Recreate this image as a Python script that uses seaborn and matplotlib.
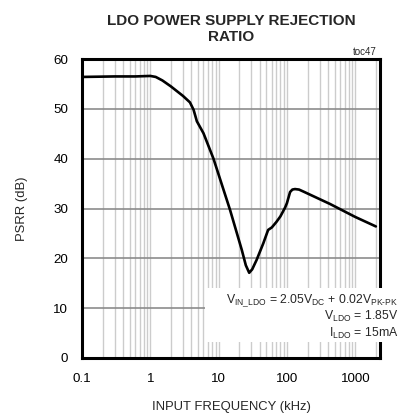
import matplotlib
matplotlib.use("Agg")
import matplotlib.pyplot as plt
from matplotlib.patches import Rectangle
from matplotlib.ticker import LogLocator, FixedLocator, FixedFormatter, NullFormatter
import seaborn as sns
import pandas as pd

# PSRR of the LDO versus ripple frequency
freq_khz = [0.1, 0.3, 0.6, 1.0, 1.2, 1.5, 2.0, 3.0, 3.8, 4.3, 4.8, 6.0, 8.4,
            14.7, 21.8, 25.0, 28.0, 31.0, 36.0, 45.0, 53.0, 60.0, 70.0, 80.0,
            94.0, 100.0, 111.0, 120.0, 131.0, 150.0, 174.0, 428.0, 1000.0, 2000.0]
psrr_db = [56.4, 56.5, 56.5, 56.6, 56.4, 55.7, 54.5, 52.6, 51.3, 49.8, 47.5, 45.1, 40.0,
           29.7, 21.7, 18.6, 17.1, 17.8, 19.7, 23.0, 25.7, 26.2, 27.3, 28.4,
           30.2, 31.1, 33.3, 33.8, 33.9, 33.8, 33.4, 30.9, 28.3, 26.4]

x_ticks = [0.1, 1, 10, 100, 1000]
x_tick_labels = ["0.1", "1", "10", "100", "1000"]
y_ticks = [0, 10, 20, 30, 40, 50, 60]

title_text = "LDO POWER SUPPLY REJECTION\nRATIO"
x_title = "INPUT FREQUENCY (kHz)"
y_title = "PSRR (dB)"
note_lines = [
    r"V$_{\mathregular{IN\_LDO}}$ = 2.05V$_{\mathregular{DC}}$ + 0.02V$_{\text{PK-PK}}$",
    r"V$_{\mathregular{LDO}}$ = 1.85V",
    r"I$_{\mathregular{LDO}}$ = 15mA",
]

sns.set_style("white")
plt.rcParams["font.family"] = ["Liberation Sans", "DejaVu Sans"]
plt.rcParams["mathtext.fontset"] = "custom"
plt.rcParams["mathtext.rm"] = "Liberation Sans"
plt.rcParams["mathtext.default"] = "regular"

df = pd.DataFrame({"freq": freq_khz, "psrr": psrr_db})

fig = plt.figure(figsize=(4.04, 4.18), dpi=100)
ax = fig.add_axes([82 / 404, 1 - 358 / 418, (380 - 82) / 404, (358 - 59) / 418])

sns.lineplot(data=df, x="freq", y="psrr", ax=ax, color="black", linewidth=1.9,
             zorder=3, sort=False)

ax.set_xscale("log")
ax.set_xlim(0.1, 2300)
ax.set_ylim(0, 60)

ax.xaxis.set_major_locator(FixedLocator(x_ticks))
ax.xaxis.set_major_formatter(FixedFormatter(x_tick_labels))
ax.xaxis.set_minor_locator(LogLocator(base=10, subs=range(2, 10), numticks=20))
ax.xaxis.set_minor_formatter(NullFormatter())
ax.set_yticks(y_ticks)

ax.grid(True, axis="x", which="both", color="#cccccc", linewidth=1.0, zorder=1)
ax.grid(True, axis="y", which="major", color="#8c8c8c", linewidth=1.2, zorder=1)
ax.set_axisbelow(True)

ax.tick_params(axis="both", which="both", length=0, labelsize=9.6, colors="black")
ax.tick_params(axis="y", pad=10)
ax.tick_params(axis="x", pad=11)

for s in ax.spines.values():
    s.set_visible(True)
    s.set_color("black")
    s.set_linewidth(2.2)

ax.set_xlabel(x_title, fontsize=9.4, labelpad=11)
ax.set_ylabel(y_title, fontsize=9.4)
ax.yaxis.set_label_coords((28 - 82) / 298, 0.5)

# title centred over the plot frame
fig.text(231 / 404, 1 - 29 / 418, title_text, ha="center", va="center",
         fontsize=11, fontweight="bold", linespacing=1.25)
fig.text(377 / 404, 1 - 52 / 418, "toc47", ha="right", va="center", fontsize=7)

# white panel behind the operating-conditions note
box = Rectangle((205 / 404, 1 - 342 / 418), (401 - 205) / 404, (342 - 288) / 418,
                transform=fig.transFigure, facecolor="white", edgecolor="none",
                zorder=4, clip_on=False)
ax.add_patch(box)
baselines = [303.5, 320.0, 336.5]
for line, yb in zip(note_lines, baselines):
    ax.text(398 / 404, 1 - yb / 418, line, transform=fig.transFigure,
            ha="right", va="baseline", fontsize=8.8, zorder=5, clip_on=False)

fig.savefig("out.png", dpi=100)
